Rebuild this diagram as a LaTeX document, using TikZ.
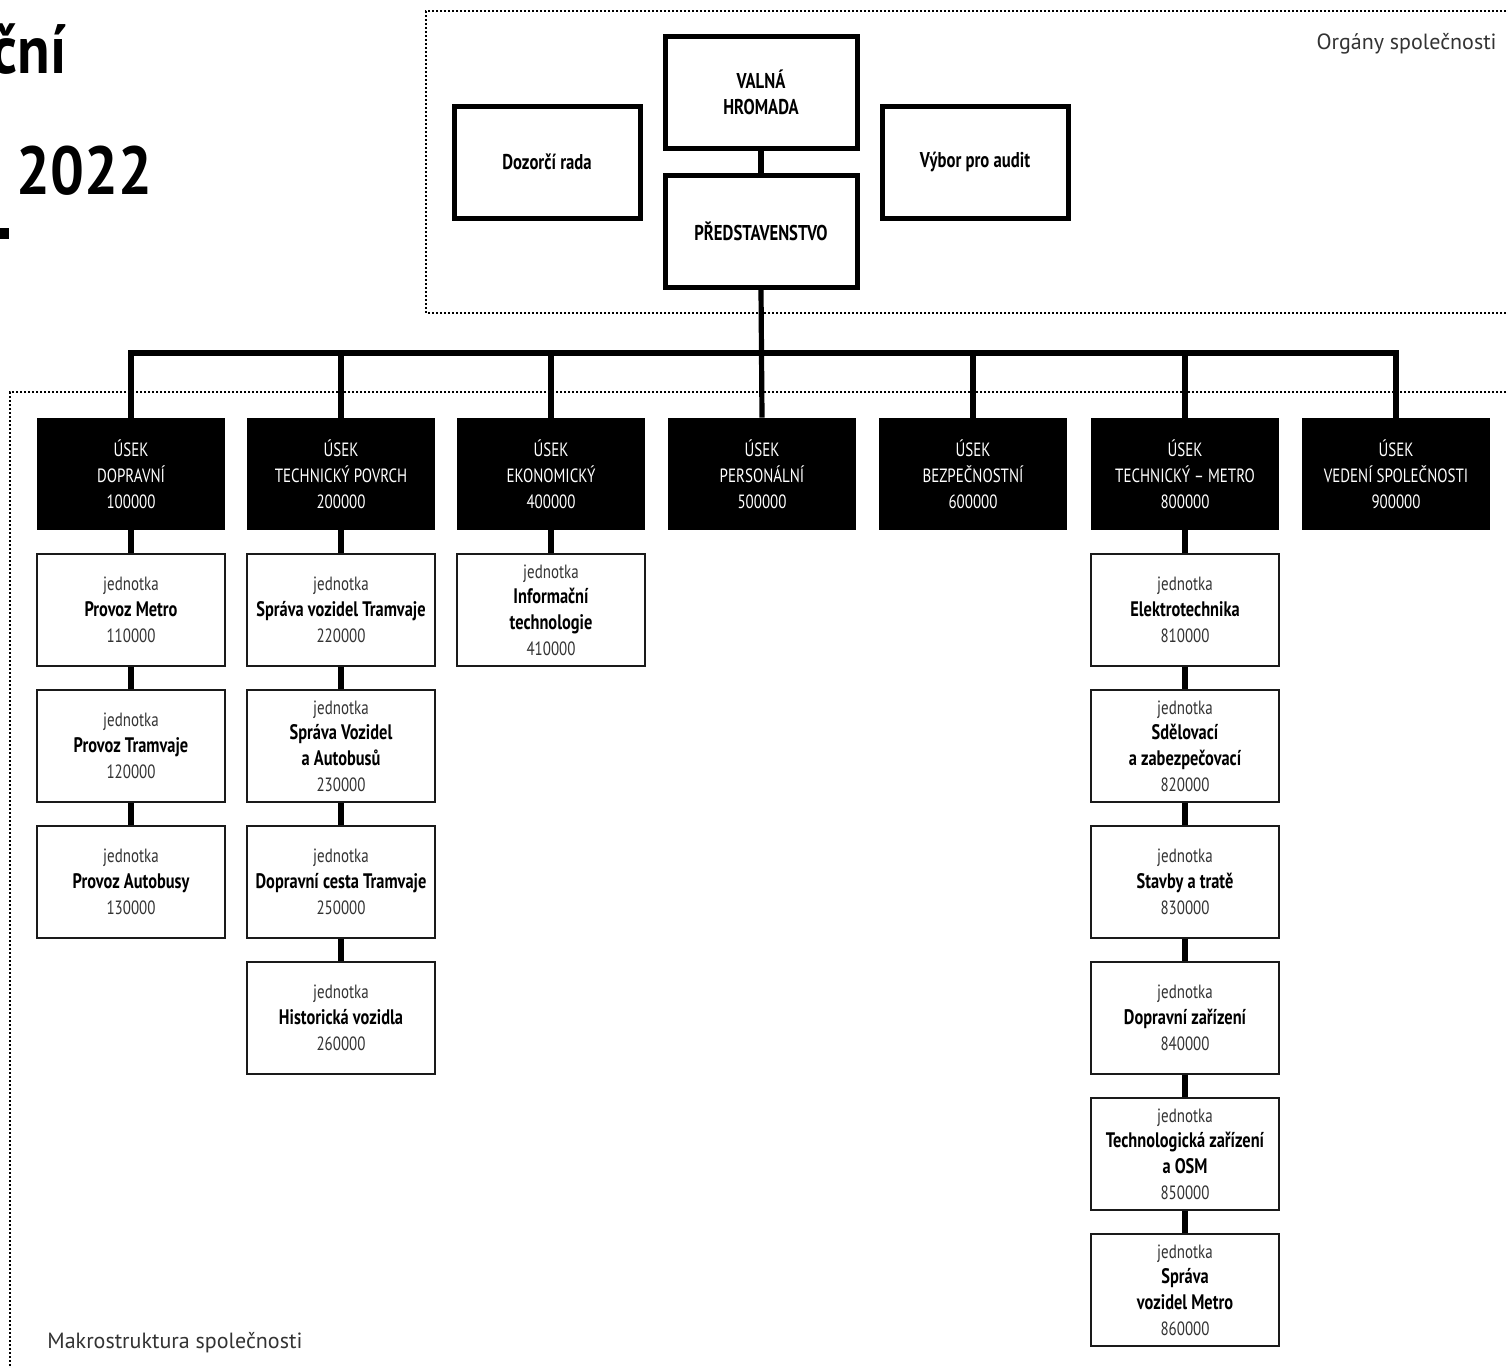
\documentclass[tikz,border=0pt]{standalone}
\usepackage{fontspec}
\setmainfont{PT Sans}
\newfontfamily\cond[FakeStretch=0.78]{PT Sans}
\newfontfamily\titlef[FakeStretch=0.88]{PT Sans}
\definecolor{ink}{HTML}{1A1A1A}
\definecolor{soft}{HTML}{333333}
\newcommand{\nm}[1]{\textcolor{black}{\bfseries\fontsize{10.5}{12.9}\selectfont #1}}
\begin{document}
\begin{tikzpicture}[x=0.5pt,y=-0.5pt,
  boxtext/.style={font={\cond\fontsize{9.6}{12.9}\selectfont}, align=center},
  organ/.style={draw=black, line width=2.5pt, fill=white, minimum width=94pt, minimum height=56pt, inner sep=0pt, align=center, font={\cond\bfseries\fontsize{10.7}{12.9}\selectfont}},
  usek/.style={fill=black, text=white, minimum width=94pt, minimum height=56pt, inner sep=0pt, boxtext},
  unit/.style={draw=ink, line width=0.8pt, fill=white, minimum width=94pt, minimum height=56pt, inner sep=0pt, boxtext, text=soft},
  link/.style={line width=2.6pt, black},
  frame/.style={line width=0.9pt, dash pattern=on 0.9pt off 1.1pt, black},
  note/.style={font={\fontsize{11}{13}\selectfont}, text=soft, inner sep=0pt}
]
\useasboundingbox (0,0) rectangle (1508,1367);

% title fragments
\node[anchor=base east, inner sep=0pt, font={\titlef\bfseries\fontsize{34}{40}\selectfont}] (t1) at (67,73) {ční};
\node[anchor=base west, inner sep=0pt, font={\titlef\bfseries\fontsize{34}{40}\selectfont}] (t2) at (16,194) {2022};
\fill (0,228) rectangle (9,239);

% frames
\draw[frame] (1510,11) -- (426,11) -- (426,313) -- (1510,313);
\draw[frame] (1510,392) -- (10,392) -- (10,1370);
\node[note, anchor=base east] (org) at (1497,49) {Orgány společnosti};
\node[note, anchor=base west] (mak) at (47,1348) {Makrostruktura společnosti};

% organs
\node[organ, minimum width=96pt] (vh) at (761,92) {VALNÁ\\HROMADA};
\node[organ, minimum width=96pt] (pr) at (761,231) {PŘEDSTAVENSTVO};
\node[organ, minimum width=93pt] (dr) at (547,162) {Dozorčí rada};
\node[organ, minimum width=93pt] (va) at (975,162) {Výbor pro audit};
\draw[link] (vh.south) -- (pr.north);

% useky
\node[usek] (u1) at (131,474) {ÚSEK\\DOPRAVNÍ\\100000};
\node[usek] (u2) at (341,474) {ÚSEK\\TECHNICKÝ POVRCH\\200000};
\node[usek] (u4) at (551,474) {ÚSEK\\EKONOMICKÝ\\400000};
\node[usek] (u5) at (762,474) {ÚSEK\\PERSONÁLNÍ\\500000};
\node[usek] (u6) at (973,474) {ÚSEK\\BEZPEČNOSTNÍ\\600000};
\node[usek] (u8) at (1185,474) {ÚSEK\\TECHNICKÝ – METRO\\800000};
\node[usek] (u9) at (1396,474) {ÚSEK\\VEDENÍ SPOLEČNOSTI\\900000};

\coordinate (bus) at (761,353);
\draw[link, line join=miter] (u1.north) -- (u1.north |- bus) -- (u9.north |- bus) -- (u9.north);
\draw[link] (pr.south) -- (u5.north);
\foreach \u in {u2,u4,u6,u8} \draw[link] (\u.north |- bus) -- (\u.north);

% units column 1
\node[unit] (a1) at (131,610) {jednotka\\\nm{Provoz Metro}\\110000};
\node[unit] (a2) at (131,746) {jednotka\\\nm{Provoz Tramvaje}\\120000};
\node[unit] (a3) at (131,882) {jednotka\\\nm{Provoz Autobusy}\\130000};
\draw[link] (u1.south) -- (a1.north);
\draw[link] (a1.south) -- (a2.north);
\draw[link] (a2.south) -- (a3.north);

% column 2
\node[unit] (b1) at (341,610) {jednotka\\\nm{Správa vozidel Tramvaje}\\220000};
\node[unit] (b2) at (341,746) {jednotka\\\nm{Správa Vozidel}\\\nm{a Autobusů}\\230000};
\node[unit] (b3) at (341,882) {jednotka\\\nm{Dopravní cesta Tramvaje}\\250000};
\node[unit] (b4) at (341,1018) {jednotka\\\nm{Historická vozidla}\\260000};
\draw[link] (u2.south) -- (b1.north);
\draw[link] (b1.south) -- (b2.north);
\draw[link] (b2.south) -- (b3.north);
\draw[link] (b3.south) -- (b4.north);

% column 3
\node[unit] (c1) at (551,610) {jednotka\\\nm{Informační}\\\nm{technologie}\\410000};
\draw[link] (u4.south) -- (c1.north);

% column 6
\node[unit] (d1) at (1185,610) {jednotka\\\nm{Elektrotechnika}\\810000};
\node[unit] (d2) at (1185,746) {jednotka\\\nm{Sdělovací}\\\nm{a zabezpečovací}\\820000};
\node[unit] (d3) at (1185,882) {jednotka\\\nm{Stavby a tratě}\\830000};
\node[unit] (d4) at (1185,1018) {jednotka\\\nm{Dopravní zařízení}\\840000};
\node[unit] (d5) at (1185,1154) {jednotka\\\nm{Technologická zařízení}\\\nm{a OSM}\\850000};
\node[unit] (d6) at (1185,1290) {jednotka\\\nm{Správa}\\\nm{vozidel Metro}\\860000};
\draw[link] (u8.south) -- (d1.north);
\draw[link] (d1.south) -- (d2.north);
\draw[link] (d2.south) -- (d3.north);
\draw[link] (d3.south) -- (d4.north);
\draw[link] (d4.south) -- (d5.north);
\draw[link] (d5.south) -- (d6.north);
\end{tikzpicture}
\end{document}
